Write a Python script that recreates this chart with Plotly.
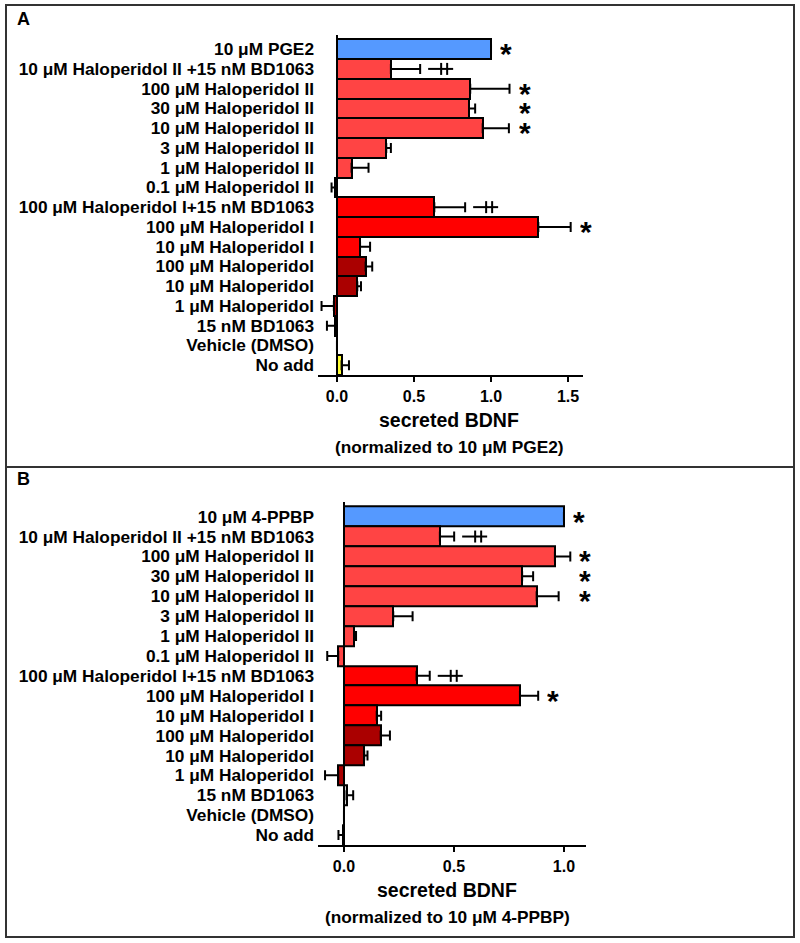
import plotly.graph_objects as go

W, H = 800, 943

# ---------------- data ----------------
labels_common = [
    "10 μM Haloperidol II +15 nM BD1063",
    "100 μM Haloperidol II",
    "30 μM Haloperidol II",
    "10 μM Haloperidol II",
    "3 μM Haloperidol II",
    "1 μM Haloperidol II",
    "0.1 μM Haloperidol II",
    "100 μM Haloperidol I+15 nM BD1063",
    "100 μM Haloperidol I",
    "10 μM Haloperidol I",
    "100 μM Haloperidol",
    "10 μM Haloperidol",
    "1 μM Haloperidol",
    "15 nM BD1063",
    "Vehicle (DMSO)",
    "No add",
]
categories_A = ["10 μM PGE2"] + labels_common
categories_B = ["10 μM 4-PPBP"] + labels_common

groups = ["ref", "hal2", "hal2", "hal2", "hal2", "hal2", "hal2", "hal2",
          "hal1", "hal1", "hal1", "hal", "hal", "hal", "bd", "veh", "noadd"]

values_A = [1.00, 0.35, 0.865, 0.857, 0.946, 0.32, 0.095, -0.01,
            0.632, 1.307, 0.15, 0.186, 0.132, -0.02, -0.01, 0.0, 0.03]
errors_A = [0.0, 0.19, 0.255, 0.04, 0.17, 0.03, 0.11, 0.025,
            0.20, 0.21, 0.065, 0.043, 0.024, 0.08, 0.055, 0.0, 0.048]

values_B = [1.00, 0.436, 0.959, 0.81, 0.876, 0.224, 0.047, -0.026,
            0.33, 0.80, 0.149, 0.167, 0.092, -0.026, 0.012, 0.0, -0.003]
errors_B = [0.0, 0.065, 0.07, 0.05, 0.10, 0.088, 0.008, 0.05,
            0.06, 0.083, 0.02, 0.042, 0.015, 0.06, 0.03, 0.0, 0.022]

# significance marks: category index -> symbol
sig_A = {0: "*", 1: "dag", 2: "*", 3: "*", 4: "*", 8: "dag", 9: "*"}
sig_B = {0: "*", 1: "dag", 2: "*", 3: "*", 4: "*", 8: "dag", 9: "*"}

ticks_A = [0.0, 0.5, 1.0, 1.5]
ticks_B = [0.0, 0.5, 1.0]
norm_A = "(normalized to 10 μM PGE2)"
norm_B = "(normalized to 10 μM 4-PPBP)"

# ---------------- styles ----------------
colors = {"ref": "#5599FF", "hal2": "#FF4444", "hal1": "#FF0000",
          "hal": "#AA0000", "bd": "#D0D0D0", "veh": "#FFFFFF", "noadd": "#FFFF33"}
FONT = "Liberation Sans, Arial, sans-serif"


def py(px):
    return 1 - px / H


def px_(x):
    return x / W


fig = go.Figure()


def add_panel(cats, vals, errs, xa, ya):
    plus = [e if v >= 0 else 0 for v, e in zip(vals, errs)]
    minus = [e if v < 0 else 0 for v, e in zip(vals, errs)]
    fig.add_trace(go.Bar(
        x=vals, y=cats, orientation="h", xaxis=xa, yaxis=ya,
        marker=dict(color=[colors[g] for g in groups],
                    line=dict(color="black", width=2)),
        error_x=dict(type="data", symmetric=False, array=plus, arrayminus=minus,
                     color="black", thickness=2, width=5),
        showlegend=False, hoverinfo="skip",
    ))


add_panel(categories_A, values_A, errors_A, "x", "y")
add_panel(categories_B, values_B, errors_B, "x2", "y2")


def xaxis_cfg(dom, rng, anchor, ticks):
    return dict(domain=dom, range=rng, anchor=anchor, automargin=False,
                showgrid=False, color="black",
                showline=True, linewidth=2, linecolor="black",
                zeroline=True, zerolinecolor="black", zerolinewidth=2,
                ticks="outside", ticklen=5, tickwidth=2, tickcolor="black",
                ticklabelstandoff=1,
                tickvals=ticks, ticktext=[f"{t:.1f}" for t in ticks],
                tickfont=dict(size=16, weight="bold"))


def yaxis_cfg(dom, rng, anchor, cats):
    return dict(domain=dom, range=rng, anchor=anchor, automargin=False,
                type="category", categoryorder="array", categoryarray=cats,
                tickmode="array", tickvals=cats, ticktext=cats,
                showgrid=False, showline=False, ticks="", zeroline=False,
                ticklabelstandoff=3,
                tickfont=dict(size=17.3, weight="bold"), color="black")


fig.update_layout(
    width=W, height=H, margin=dict(l=0, r=0, t=0, b=0),
    paper_bgcolor="white", plot_bgcolor="white",
    bargap=0,
    font=dict(family=FONT, color="black"),
    xaxis=xaxis_cfg([px_(318), px_(583)], [-0.123, 1.597], "y", ticks_A),
    yaxis=yaxis_cfg([py(375), py(35)], [16.5, -0.717], "x", categories_A),
    xaxis2=xaxis_cfg([px_(318), px_(585.7)], [-0.118, 1.099], "y2", ticks_B),
    yaxis2=yaxis_cfg([py(845), py(502.3)], [16.5, -0.72], "x2", categories_B),
)

# panel boxes
for y0, y1 in [(467, 5), (937, 467)]:
    fig.add_shape(type="rect", xref="paper", yref="paper",
                  x0=px_(6), x1=px_(794), y0=py(y0), y1=py(y1),
                  line=dict(color="#333333", width=2), layer="above")

annos = []
# panel letters
annos.append(dict(text="A", x=px_(15), y=py(19), xref="paper", yref="paper",
                  xanchor="left", yanchor="middle", showarrow=False,
                  font=dict(size=18, weight="bold")))
annos.append(dict(text="B", x=px_(15), y=py(479), xref="paper", yref="paper",
                  xanchor="left", yanchor="middle", showarrow=False,
                  font=dict(size=18, weight="bold")))

# axis titles
for cx, y1, y2, norm in [(449, 420, 447, norm_A), (447, 890, 917, norm_B)]:
    annos.append(dict(text="secreted BDNF", x=px_(cx), y=py(y1), xref="paper", yref="paper",
                      xanchor="center", yanchor="middle", showarrow=False,
                      font=dict(size=19.5, weight="bold")))
    annos.append(dict(text=norm, x=px_(cx), y=py(y2), xref="paper", yref="paper",
                      xanchor="center", yanchor="middle", showarrow=False,
                      font=dict(size=17.3, weight="bold")))


def add_marks(cats, vals, errs, sig, xr, yr):
    ends = [v + e if v >= 0 else v for v, e in zip(vals, errs)]
    idx = sorted(sig)
    runs = []
    for i in idx:
        if runs and runs[-1][-1] == i - 1 and sig[runs[-1][-1]] == sig[i]:
            runs[-1].append(i)
        else:
            runs.append([i])
    for run in runs:
        xm = max(ends[i] for i in run)
        for i in run:
            if sig[i] == "*":
                annos.append(dict(text="*", x=xm, y=cats[i], xref=xr, yref=yr,
                                  xanchor="left", yanchor="middle", valign="middle",
                                  height=18, xshift=7, yshift=-4,
                                  showarrow=False, font=dict(size=30, weight="bold")))
            else:
                # double-cross mark drawn as pixel-sized line shapes
                seg = [(8, 33, 0, 0), (21, 21, -6, 6), (27, 27, -6, 6)]
                for a, b, c, d in seg:
                    fig.add_shape(type="line", xref=xr, yref=yr,
                                  xsizemode="pixel", ysizemode="pixel",
                                  xanchor=xm, yanchor=i,
                                  x0=a, x1=b, y0=c, y1=d,
                                  line=dict(color="black", width=2))


add_marks(categories_A, values_A, errors_A, sig_A, "x", "y")
add_marks(categories_B, values_B, errors_B, sig_B, "x2", "y2")

fig.update_layout(annotations=annos)
fig.write_html("out.html", config={"displayModeBar": False},
               post_script="document.body.style.margin='0';document.body.style.overflow='hidden';")
